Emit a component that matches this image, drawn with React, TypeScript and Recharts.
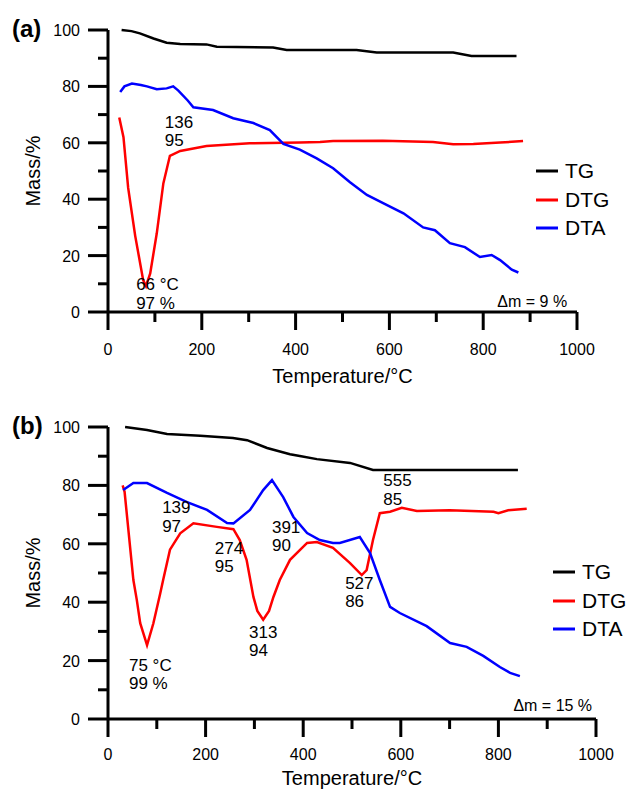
import { Legend, Line, LineChart, ReferenceDot, XAxis, YAxis } from "recharts";

// temperature / value pairs
const tgA = [[29,100],[50,99.6],[68,98.8],[97,97],[125,95.5],[154,95],[210,94.9],[232,94.1],[352,93.8],[381,92.9],[530,92.9],[573,92],[736,92],[775,90.8],[871,90.8]];
const dtgA = [[24,69],[33,62],[43,44],[58,27],[75,11.3],[81,9.2],[90,13.7],[104,27.9],[118,45.6],[132,55.4],[154,57.1],[210,58.9],[302,59.8],[409,60.1],[452,60.3],[480,60.6],[586,60.7],[693,60.3],[736,59.5],[779,59.6],[836,60.1],[885,60.6]];
const dtaA = [[26,78],[35,80],[51,81],[70,80.5],[83,80],[104,79],[125,79.3],[139,80],[150,78.5],[170,75],[182,72.6],[224,71.6],[267,68.7],[310,67],[345,64.5],[374,59.6],[409,57.6],[445,54.5],[480,51],[516,46],[552,41.5],[594,38],[630,35],[672,30],[697,29],[729,24.4],[761,23],[793,19.5],[818,20.2],[836,18.4],[861,15],[875,14]];

const tgB = [[35,100],[80,99],[121,97.6],[189,97],[256,96.2],[285,95.5],[326,92.8],[373,90.7],[393,90.1],[428,89],[496,87.7],[543,85.3],[840,85.3]];
const dtgB = [[30,80],[34,77.8],[52,47.6],[59,40.8],[66,32.8],[80,25.3],[93,32.8],[107,43],[113,47.6],[127,58],[148,63.6],[175,67],[223,65.8],[257,65],[270,61.3],[284,54.5],[298,41.8],[306,37],[318,34],[330,37],[339,41.8],[352,47.6],[373,54.5],[408,60.3],[428,60.6],[461,58.6],[496,53.4],[520,49.3],[530,51],[543,61.3],[557,70.5],[578,71],[602,72.3],[633,71.2],[700,71.5],[790,71],[800,70.5],[820,71.5],[858,72]];
const dtaB = [[31,78.4],[52,80.8],[80,80.8],[121,77.4],[162,74.3],[203,71.6],[244,67.1],[257,67],[291,71.6],[318,78.4],[336,81.8],[359,76],[380,69.2],[408,63.7],[434,61.3],[461,60.3],[475,60.3],[516,62.3],[537,56.8],[557,47.6],[578,38.4],[598,36.3],[653,31.8],[701,26],[735,24.7],[769,21.6],[803,17.8],[824,15.8],[844,14.7]];

// peak notes: [temperature, value, line1, line2]
const notesA = [[121, 67.5, "136", "95"], [60, 9.9, "66 °C", "97 %"]];
const notesB = [
  [111, 72.6, "139", "97"],
  [219, 58.6, "274", "95"],
  [336, 65.8, "391", "90"],
  [43, 18.5, "75 °C", "99 %"],
  [289, 29.8, "313", "94"],
  [564, 81.8, "555", "85"],
  [486, 46.6, "527", "86"],
];

const tempTicks = [0, 100, 200, 300, 400, 500, 600, 700, 800, 900, 1000];
const massTicks = [0, 10, 20, 30, 40, 50, 60, 70, 80, 90, 100];
const seriesNames = ["TG", "DTG", "DTA"];
const colors = ["#000000", "#ff0000", "#0000ff"];

const toPts = (arr: number[][]) => arr.map(([t, v]) => ({ t, v }));

const makeXTick = (dy: number) => ({ x, y, payload }: any) => {
  const major = payload.value % 200 === 0;
  return (
    <g>
      <line x1={x} x2={x} y1={y} y2={y + (major ? 18 : 10)} stroke="#000" strokeWidth={3} />
      {major && (
        <text x={x} y={y + dy} textAnchor="middle" fontSize={16} fill="#000">
          {payload.value}
        </text>
      )}
    </g>
  );
};

const YTick = ({ x, y, payload }: any) => {
  const major = payload.value % 20 === 0;
  return (
    <g>
      <line x1={x - (major ? 20 : 10)} x2={x} y1={y} y2={y} stroke="#000" strokeWidth={3} />
      {major && (
        <text x={x - 28} y={y + 6} textAnchor="end" fontSize={16} fill="#000">
          {payload.value}
        </text>
      )}
    </g>
  );
};

const renderLegend = () => (
  <div style={{ fontSize: 21, color: "#000" }}>
    {seriesNames.map((n, i) => (
      <div key={n} style={{ display: "flex", alignItems: "center", height: 28.5 }}>
        <svg width={22} height={4}>
          <line x1={0} x2={22} y1={2} y2={2} stroke={colors[i]} strokeWidth={3} />
        </svg>
        <span style={{ marginLeft: 7 }}>{n}</span>
      </div>
    ))}
  </div>
);

function Panel({
  series,
  notes,
  height,
  margin,
  axisH,
  tickDy,
  titleDy,
  legendPos,
  delta,
}: {
  series: number[][][];
  notes: any[];
  height: number;
  margin: { top: number; right: number };
  axisH: number;
  tickDy: number;
  titleDy: number;
  legendPos: { left: number; top: number };
  delta: [number, number, string];
}) {
  return (
    <LineChart width={633} height={height} margin={{ top: margin.top, right: margin.right, left: 0, bottom: 0 }}>
      <XAxis
        type="number"
        dataKey="t"
        domain={[0, 1000]}
        ticks={tempTicks}
        interval={0}
        height={axisH}
        tickSize={0}
        tickMargin={0}
        tick={makeXTick(tickDy)}
        axisLine={{ stroke: "#000", strokeWidth: 3 }}
        label={{
          content: ({ viewBox }: any) => (
            <text x={viewBox.x + viewBox.width / 2} y={viewBox.y + titleDy} textAnchor="middle" fontSize={20} fill="#000">
              Temperature/°C
            </text>
          ),
        }}
      />
      <YAxis
        type="number"
        dataKey="v"
        domain={[0, 100]}
        ticks={massTicks}
        interval={0}
        width={108}
        tickSize={0}
        tickMargin={0}
        tick={YTick}
        axisLine={{ stroke: "#000", strokeWidth: 3 }}
        label={{
          content: ({ viewBox }: any) => {
            const cy = viewBox.y + viewBox.height / 2;
            return (
              <text x={40} y={cy} transform={`rotate(-90 40 ${cy})`} textAnchor="middle" fontSize={20} fill="#000">
                Mass/%
              </text>
            );
          },
        }}
      />
      <Legend
        layout="vertical"
        align="center"
        verticalAlign="middle"
        content={renderLegend}
        wrapperStyle={{ left: legendPos.left, top: legendPos.top, width: 90, height: 90 }}
      />
      {series.map((s, i) => (
        <Line
          key={seriesNames[i]}
          name={seriesNames[i]}
          data={toPts(s)}
          dataKey="v"
          type="linear"
          stroke={colors[i]}
          strokeWidth={2.5}
          dot={false}
          isAnimationActive={false}
        />
      ))}
      {notes.map((n, i) => (
        <ReferenceDot
          key={i}
          x={n[0]}
          y={n[1]}
          r={0}
          ifOverflow="visible"
          shape={(p: any) => (
            <text x={p.cx} y={p.cy + 6} fontSize={17} fill="#000">
              <tspan x={p.cx}>{n[2]}</tspan>
              <tspan x={p.cx} dy={18.5}>{n[3]}</tspan>
            </text>
          )}
        />
      ))}
      <ReferenceDot
        x={delta[0]}
        y={delta[1]}
        r={0}
        ifOverflow="visible"
        shape={(p: any) => (
          <text x={p.cx} y={p.cy + 6} fontSize={16} textAnchor="end" fill="#000">
            {delta[2]}
          </text>
        )}
      />
    </LineChart>
  );
}

const tag = (top: number): React.CSSProperties => ({
  position: "absolute",
  left: 12,
  top,
  fontSize: 24,
  fontWeight: "bold",
  lineHeight: "24px",
});

export default function App() {
  return (
    <div
      style={{
        position: "absolute",
        left: 0,
        top: 0,
        width: 633,
        height: 792,
        overflow: "hidden",
        background: "#fff",
        fontFamily: "'Liberation Sans', Arial, sans-serif",
      }}
    >
      <div style={{ position: "absolute", left: 0, top: 0 }}>
        <Panel
          series={[tgA, dtgA, dtaA]}
          notes={notesA}
          height={395}
          margin={{ top: 30, right: 56 }}
          axisH={83}
          tickDy={43}
          titleDy={71}
          legendPos={{ left: 536, top: 157 }}
          delta={[979, 3.9, "Δm = 9 %"]}
        />
      </div>
      <div style={{ position: "absolute", left: 0, top: 395 }}>
        <Panel
          series={[tgB, dtgB, dtaB]}
          notes={notesB}
          height={397}
          margin={{ top: 32, right: 37 }}
          axisH={73}
          tickDy={41}
          titleDy={66}
          legendPos={{ left: 553, top: 163 }}
          delta={[992, 4.8, "Δm = 15 %"]}
        />
      </div>
      <span style={tag(17)}>(a)</span>
      <span style={tag(414)}>(b)</span>
    </div>
  );
}
